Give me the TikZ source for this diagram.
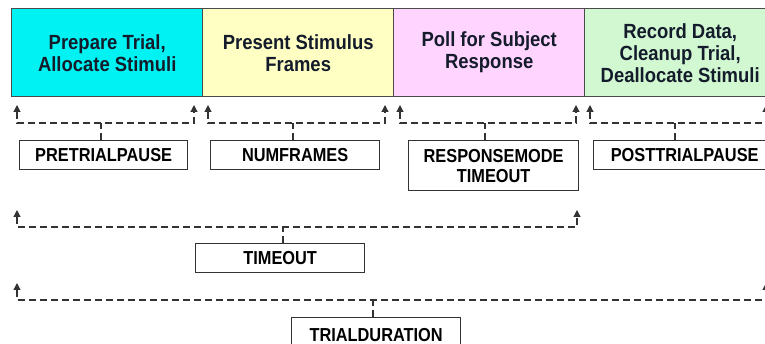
\documentclass[tikz,border=0pt]{standalone}
\usepackage{fontspec}
\setmainfont{Liberation Sans}
\newfontfamily\topfont{Liberation Sans}[FakeStretch=0.9]
\newfontfamily\labfont{Liberation Sans}[FakeStretch=0.87]
\usetikzlibrary{arrows.meta}
\definecolor{cyanbox}{HTML}{00F2F2}
\definecolor{yelbox}{HTML}{FFFFC4}
\definecolor{pinkbox}{HTML}{FFD4FF}
\definecolor{greenbox}{HTML}{D2F8D2}
\definecolor{boxline}{HTML}{4A4A4A}
\definecolor{toptext}{HTML}{141C2C}
\tikzset{
  phase/.style={draw=boxline, line width=1.4pt, minimum width=191pt, minimum height=88pt,
    inner sep=0pt, anchor=north west, align=center, text=toptext,
    font=\topfont\fontsize{20.5}{22}\selectfont\bfseries},
  lbl/.style={draw=black!80, line width=1.3pt, fill=white, inner sep=0pt, anchor=north west,
    align=center, font=\labfont\fontsize{18.8}{20}\selectfont\bfseries},
  br/.style={draw=black!80, line width=1.2pt, dash pattern=on 7pt off 4pt},
  brarrow/.style={br, {Triangle[width=7pt,length=7pt]}-{Triangle[width=7pt,length=7pt]}},
}
\begin{document}
\begin{tikzpicture}[x=1pt,y=-1pt]
\useasboundingbox (0,0) rectangle (765,344);
\clip (0,0) rectangle (765,344);
% phase boxes
\node[phase, fill=cyanbox] (p1) at (11,8) {Prepare Trial,\\Allocate Stimuli};
\node[phase, fill=yelbox] (p2) at (202,8) {Present Stimulus\\Frames};
\node[phase, fill=pinkbox] (p3) at (393,8) {Poll for Subject\\Response};
\node[phase, fill=greenbox] (p4) at (584,8) {Record Data,\\Cleanup Trial,\\Deallocate Stimuli};
% label boxes
\node[lbl, minimum width=168pt, minimum height=29pt] (pre) at (19,140) {PRETRIALPAUSE};
\node[lbl, minimum width=169pt, minimum height=29pt] (num) at (210,140) {NUMFRAMES};
\node[lbl, minimum width=170pt, minimum height=50pt] (resp) at (408,140) {RESPONSEMODE\\TIMEOUT};
\node[lbl, minimum width=182pt, minimum height=29pt] (post) at (593,140) {POSTTRIALPAUSE};
\node[lbl, minimum width=169pt, minimum height=29pt] (tout) at (195,243) {TIMEOUT};
\node[lbl, minimum width=169pt, minimum height=34pt] (tdur) at (291,317) {TRIALDURATION};
% arrow tip coordinates
\coordinate (a1) at (17,105);  \coordinate (b1) at (194,105);
\coordinate (a2) at (208,105); \coordinate (b2) at (385,105);
\coordinate (a3) at (400,105); \coordinate (b3) at (576,105);
\coordinate (a4) at (590,105); \coordinate (b4) at (766,105);
\coordinate (a5) at (17,210);  \coordinate (b5) at (577,210);
\coordinate (a6) at (17,283);  \coordinate (b6) at (766,283);
% brackets
\draw[brarrow] (a1) -- (17,123) -- (194,123) -- (b1);
\draw[brarrow] (a2) -- (208,123) -- (385,123) -- (b2);
\draw[brarrow] (a3) -- (400,123) -- (576,123) -- (b3);
\draw[brarrow] (a4) -- (590,123) -- (766,123) -- (b4);
\draw[brarrow] (a5) -- (17,227) -- (577,227) -- (b5);
\draw[brarrow] (a6) -- (17,300) -- (766,300) -- (b6);
% ticks
\draw[br] (pre.north -| 101,0) -- (101,123);
\draw[br] (num.north -| 293,0) -- (293,123);
\draw[br] (resp.north -| 485,0) -- (485,123);
\draw[br] (post.north -| 675,0) -- (675,123);
\draw[br] (tout.north -| 283,0) -- (283,227);
\draw[br] (tdur.north -| 373,0) -- (373,300);
\end{tikzpicture}
\end{document}
